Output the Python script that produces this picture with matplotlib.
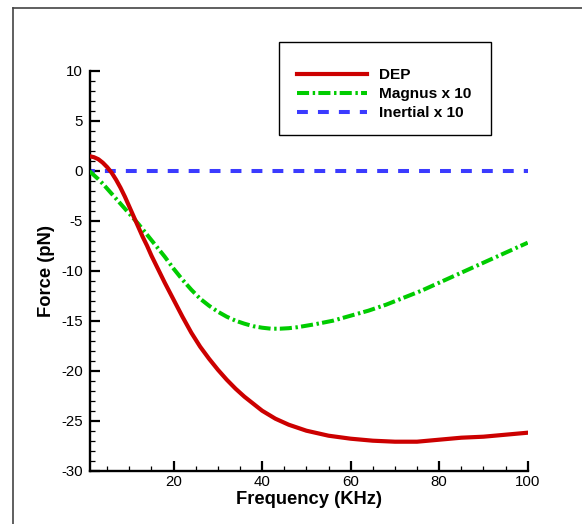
import matplotlib
matplotlib.use("Agg")
import matplotlib.pyplot as plt
from matplotlib.lines import Line2D
from matplotlib.patches import Rectangle
from matplotlib.ticker import MultipleLocator

plt.rcParams["font.family"] = ["Liberation Sans", "DejaVu Sans"]
plt.rcParams["axes.unicode_minus"] = False

# --- data ---
freq_dep = [1, 2, 3, 4, 5, 6, 7, 8, 9, 10, 11, 12, 13, 14, 15, 16, 18, 20,
            22, 24, 26, 28, 30, 32, 34, 36, 38, 40, 43, 46, 50, 55, 60, 65,
            70, 75, 80, 85, 90, 95, 100]
dep = [1.45, 1.35, 1.15, 0.8, 0.35, -0.2, -0.9, -1.7, -2.6, -3.6, -4.6,
       -5.6, -6.6, -7.5, -8.5, -9.4, -11.2, -12.9, -14.6, -16.2, -17.6,
       -18.8, -19.9, -20.9, -21.8, -22.6, -23.3, -24.0, -24.8, -25.4, -26.0,
       -26.5, -26.8, -27.0, -27.1, -27.1, -26.9, -26.7, -26.6, -26.4, -26.2]

freq_mag = [1, 2, 3, 4, 5, 6, 8, 10, 12, 14, 16, 18, 20, 22, 24, 26, 28, 30,
            32, 34, 36, 38, 40, 42, 44, 46, 48, 50, 52, 56, 60, 64, 68, 72,
            76, 80, 85, 90, 95, 100]
magnus = [-0.05, -0.45, -0.85, -1.3, -1.8, -2.3, -3.3, -4.3, -5.3, -6.4,
          -7.5, -8.6, -9.8, -10.9, -11.9, -12.8, -13.5, -14.1, -14.6, -15.0,
          -15.3, -15.55, -15.7, -15.8, -15.8, -15.75, -15.65, -15.5, -15.35,
          -15.0, -14.5, -14.0, -13.4, -12.7, -12.0, -11.2, -10.2, -9.2, -8.2,
          -7.2]

freq_in = [1, 100]
inertial = [0.0, 0.0]

RED = "#cc0000"
GREEN = "#00cc00"
BLUE = "#3b3bff"
W, H = 582, 524


def main() -> None:
    fig = plt.figure(figsize=(W / 100, H / 100), dpi=100)
    ax = fig.add_axes([89.5 / W, 1 - 470.7 / H, 438.2 / W, 400 / H])

    ax.plot(freq_in, inertial, color=BLUE, linewidth=2.9,
            linestyle=(1.5, (2.7, 2.5)), zorder=2)
    h_mag, = ax.plot(freq_mag, magnus, color=GREEN, linewidth=2.9,
                     linestyle=(0, (3.0, 0.9, 0.6, 0.8)), zorder=3)
    h_dep, = ax.plot(freq_dep, dep, color=RED, linewidth=3.0, zorder=4)
    # legend proxy so the swatch starts with a full dash
    h_in = Line2D([], [], color=BLUE, linewidth=2.9, linestyle=(0, (2.7, 2.5)))

    ax.set_xlim(1, 100)
    ax.set_ylim(-30, 10)
    ax.xaxis.set_major_locator(MultipleLocator(20))
    ax.xaxis.set_minor_locator(MultipleLocator(5))
    ax.yaxis.set_major_locator(MultipleLocator(5))
    ax.yaxis.set_minor_locator(MultipleLocator(1))

    for side in ("top", "right"):
        ax.spines[side].set_visible(False)
    for side in ("left", "bottom"):
        ax.spines[side].set_linewidth(1.7)

    ax.tick_params(which="major", direction="in", length=7, width=1.6,
                   labelsize=10.8, pad=4.7)
    ax.tick_params(which="minor", direction="in", length=3.6, width=0.9)
    ax.tick_params(axis="x", which="major", pad=3.0)

    ax.set_xlabel("Frequency (KHz)", fontsize=13.2, fontweight="bold")
    ax.set_ylabel("Force (pN)", fontsize=13.2, fontweight="bold")
    ax.xaxis.label.set_verticalalignment("center")
    ax.yaxis.label.set_verticalalignment("center")
    ax.xaxis.set_label_coords(0.5, -0.072)
    ax.yaxis.set_label_coords(-0.0977, 0.5)

    # legend box drawn by hand, entries placed inside it
    fig.add_artist(Rectangle((279 / W, 1 - 135 / H), 212 / W, 93 / H,
                             transform=fig.transFigure, fill=False,
                             edgecolor="black", linewidth=1.0))
    ax.legend([h_dep, h_mag, h_in], ["DEP", "Magnus x 10", "Inertial x 10"],
              loc="upper left", bbox_to_anchor=(297 / W, 1 - 68 / H),
              bbox_transform=fig.transFigure,
              prop={"weight": "bold", "size": 11.1},
              handlelength=4.55, handletextpad=0.78, labelspacing=0.33,
              borderpad=0, borderaxespad=0, frameon=False)

    # outer frame, cut off at the right and bottom edges
    fig.add_artist(Line2D([13 / W, 13 / W], [1 - 8 / H, -0.05],
                          transform=fig.transFigure, color="#444444",
                          linewidth=1.2))
    fig.add_artist(Line2D([13 / W, 1.05], [1 - 8 / H, 1 - 8 / H],
                          transform=fig.transFigure, color="#444444",
                          linewidth=1.2))

    fig.savefig("out.png", dpi=100)
    plt.close(fig)


if __name__ == "__main__":
    main()
